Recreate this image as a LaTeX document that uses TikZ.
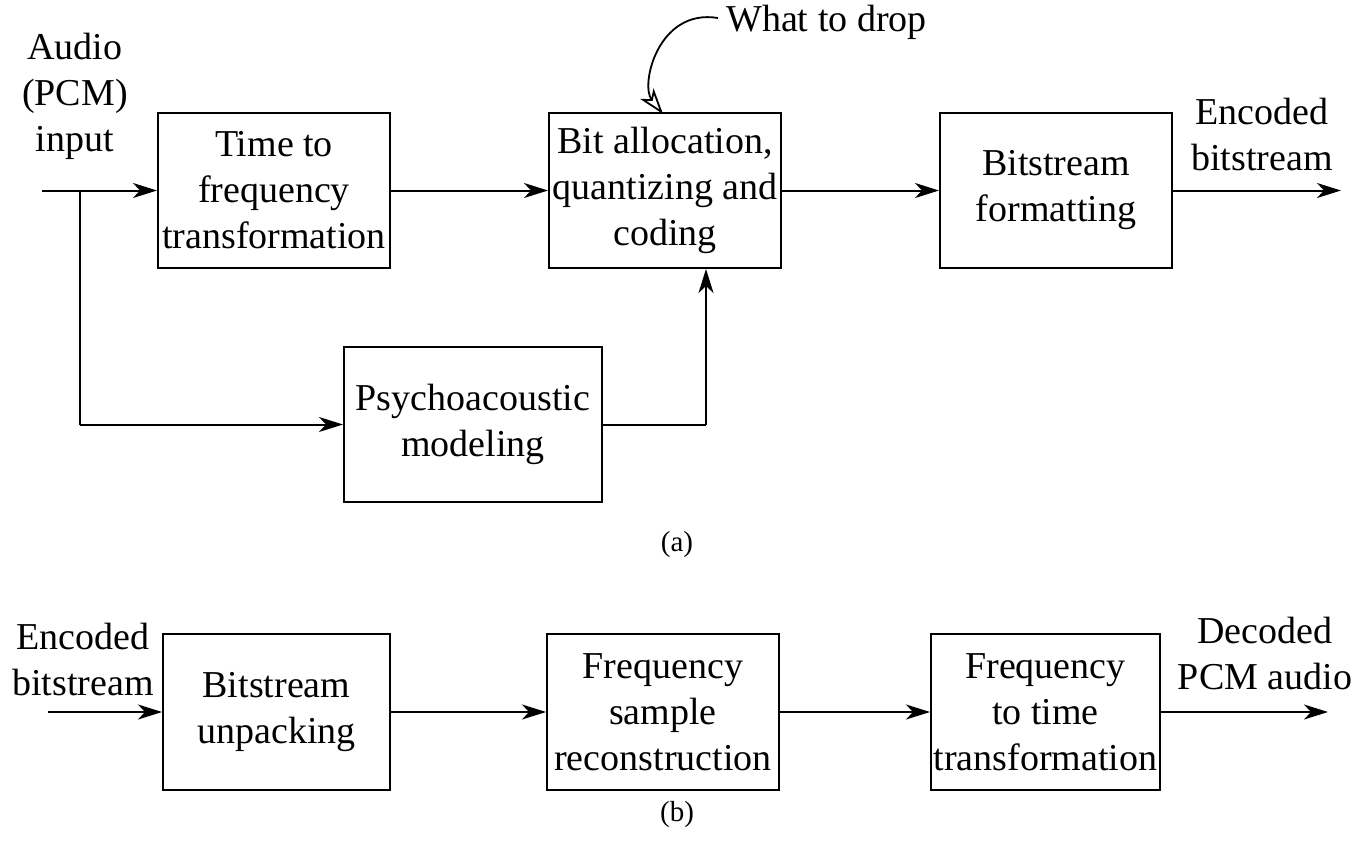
\documentclass[tikz,border=0pt]{standalone}
\usepackage{fontspec}
\setmainfont{Liberation Serif}
\usetikzlibrary{arrows.meta}
\begin{document}
\begin{tikzpicture}[x=1pt,y=-1pt,
  every node/.style={font=\fontsize{38}{46}\selectfont, align=center, inner sep=0pt},
  blk/.style={draw, line width=2pt, minimum width=232pt, minimum height=155pt},
  lbl/.style={},
  con/.style={line width=2pt, -{Stealth[length=24pt,width=15pt,inset=7pt]}},
  line/.style={line width=2pt}]
\useasboundingbox (0,0) rectangle (1361,844);
% (a)
\node[blk] (tf) at (274,190.5) {Time to\\frequency\\transformation};
\node[blk] (ba) at (665,190.5) {Bit allocation,\\quantizing and\\coding};
\node[blk] (bf) at (1056,190.5) {Bitstream\\formatting};
\node[blk, minimum width=258pt] (pm) at (473,424.5) {Psychoacoustic\\modeling};
\node[lbl] (ain) at (75,96) {Audio\\(PCM)\\input};
\node[lbl] (eb) at (1262,134) {Encoded\\bitstream};
\node[lbl, anchor=west] (wd) at (726,22) {What to drop};
\node[lbl, font=\fontsize{29}{32}\selectfont] (la) at (677,545) {(a)};
\coordinate (in) at (42,190.5);
\coordinate (br) at (80,190.5);
\coordinate (out) at (1341,190.5);
\coordinate (up) at (706,424.5);
\coordinate (ws) at ([shift={(-8,-4)}]wd.west);
\draw[con] (in) -- (tf.west);
\draw[line] (br) -- (80,424.5);
\draw[con] (80,424.5) -- (pm.west);
\draw[con] (tf.east) -- (ba.west);
\draw[con] (ba.east) -- (bf.west);
\draw[con] (bf.east) -- (out);
\draw[line] (pm.east) -- (up);
\draw[con] (up) -- (up |- ba.south);
\draw[line width=1.8pt, -{Stealth[open,length=26pt,width=17pt,inset=7pt,line width=1.8pt]}] (ws) .. controls (658,8) and (640,85) .. (663,114);
% (b)
\node[blk, minimum width=227pt, minimum height=156pt] (bu) at (276.5,712) {Bitstream\\unpacking};
\node[blk, minimum width=232pt, minimum height=156pt] (fs) at (663,712) {Frequency\\sample\\reconstruction};
\node[blk, minimum width=229pt, minimum height=156pt] (ft) at (1045.5,712) {Frequency\\to time\\transformation};
\node[lbl] (eb2) at (83,659) {Encoded\\bitstream};
\node[lbl] (dp) at (1265,653) {Decoded\\PCM audio};
\node[lbl, font=\fontsize{29}{32}\selectfont] (lb) at (677,815) {(b)};
\coordinate (in2) at (48,712);
\coordinate (out2) at (1328,712);
\draw[con] (in2) -- (bu.west);
\draw[con] (bu.east) -- (fs.west);
\draw[con] (fs.east) -- (ft.west);
\draw[con] (ft.east) -- (out2);
\end{tikzpicture}
\end{document}
